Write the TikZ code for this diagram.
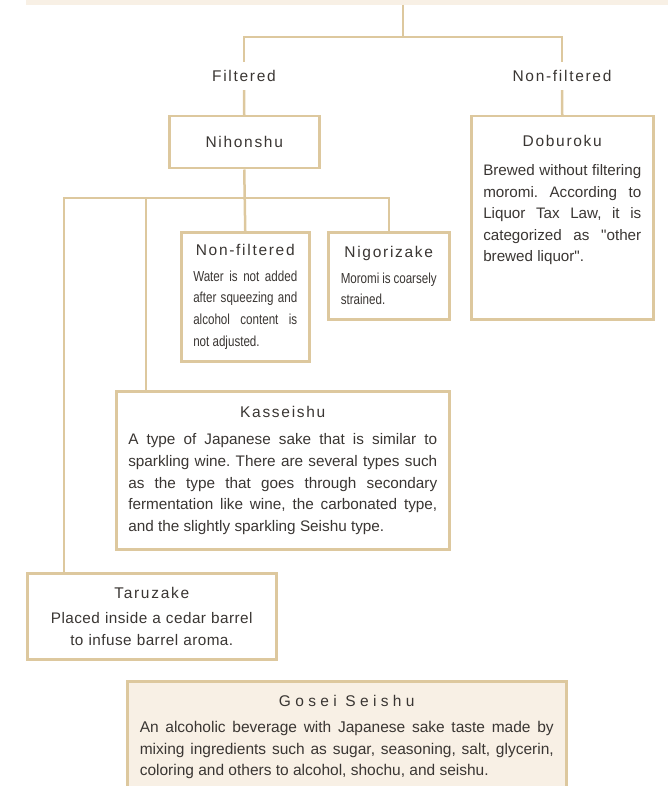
\documentclass[tikz,border=0pt]{standalone}
\usepackage{fontspec}
\setmainfont{Liberation Sans}[Ligatures=TeXOff]
\newfontfamily\headfont[LetterSpace=11]{Liberation Sans}
\newfontfamily\wideheadfont[LetterSpace=28]{Liberation Sans}
\newfontfamily\narrowfont[FakeStretch=0.8,Ligatures=TeXOff]{Liberation Sans}
\definecolor{sakeline}{HTML}{DDC89E}
\definecolor{sakefill}{HTML}{F8F0E5}
\definecolor{sakeink}{HTML}{3A3633}
\hyphenpenalty=10000
\frenchspacing

\begin{document}
\begin{tikzpicture}[x=1pt,y=-1pt,
	conn/.style={draw=sakeline,line width=2.5pt},
	lbl/.style={text=sakeink,font=\headfont\fontsize{15.5}{18}\selectfont,minimum height=28,inner sep=0pt},
	box/.style={draw=sakeline,line width=2.5pt,fill=white,anchor=north west,inner sep=0pt,
		text=sakeink,align=justify,font=\frenchspacing\fontsize{15.3}{21.7}\selectfont}]

	\useasboundingbox (0,0) rectangle (668,786);

	\fill[sakefill] (26,0) rectangle (668,5);
	\coordinate (src) at (403,5);

	\node[lbl] (filt) at (244,76) {Filtered};
	\node[lbl] (unfilt) at (562,76) {Non-filtered};

	\node[box,minimum width=150,minimum height=52] (nihon) at (168,115)
		{\headfont\fontsize{15.5}{18}\selectfont Nihonshu};

	\node[box,minimum width=182,minimum height=203,text width=158] (dobu) at (470,115)
		{{\centering\headfont\fontsize{15.5}{18}\selectfont Doburoku\par}\vspace{8pt}
		\fontsize{15.2}{21.5}\selectfont
		Brewed without filtering\linebreak moromi. According to\linebreak Liquor Tax Law, it is\linebreak
		categorized as "other\linebreak brewed liquor".\par\vspace*{36pt}};

	\node[box,minimum width=128,minimum height=129,text width=104] (nonf) at (180,231)
		{{\centering\headfont\fontsize{15.5}{18}\selectfont Non-filtered\par}\vspace{4pt}
		\narrowfont\fontsize{14.5}{21}\selectfont
		Water is not added\linebreak after squeezing and\linebreak alcohol content is\linebreak not adjusted.};

	\node[box,minimum width=121,minimum height=87,text width=96] (nigo) at (327,231)
		{{\centering\headfont\fontsize{15.5}{18}\selectfont Nigorizake\par}\vspace{4pt}
		\narrowfont\fontsize{14.5}{21}\selectfont
		Moromi is coarsely\linebreak strained.};

	\node[box,minimum width=333,minimum height=158,text width=309] (kass) at (115,390)
		{{\centering\headfont\fontsize{15.5}{18}\selectfont Kasseishu\par}\vspace{6pt}
		A type of Japanese sake that is similar to\linebreak sparkling wine. There are several types such\linebreak
		as the type that goes through secondary\linebreak fermentation like wine, the carbonated type,\linebreak
		and the slightly sparkling Seishu type.};

	\node[box,minimum width=249,minimum height=86,text width=234,align=center] (taru) at (26,572)
		{{\headfont\fontsize{15.5}{18}\selectfont Taruzake\par}\vspace{4pt}
		\addfontfeature{LetterSpace=3}
		Placed inside a cedar barrel\\ to infuse barrel aroma.};

	\node[box,fill=sakefill,minimum width=439,text width=414,inner ysep=14pt] (gosei) at (126,680)
		{{\centering\wideheadfont\fontsize{15.5}{18}\selectfont Gosei Seishu\par}\vspace{5pt}
		\fontsize{15.5}{21.5}\selectfont
		An alcoholic beverage with Japanese sake taste made by\linebreak mixing ingredients such as sugar, seasoning, salt, glycerin,\linebreak
		coloring and others to alcohol, shochu, and seishu.\par\vspace*{30pt}};

	\coordinate (split) at (403,37);
	\coordinate (bus) at (244,198);
	\coordinate (taruin) at ([xshift=38pt]taru.north west);
	\coordinate (kassin) at ([xshift=31pt]kass.north west);

	\draw[conn] (src) -- (split);
	\draw[conn] (filt.north) |- (split) -| (unfilt.north);
	\draw[conn] (filt.south) -- (nihon.north);
	\draw[conn] (unfilt.south) -- (dobu.north);
	\draw[conn] (nihon.south) -- (nonf.north);
	\draw[conn] (taruin) |- (bus -| nigo.north) -- (nigo.north);
	\draw[conn] (kassin) -- (kassin |- bus);

\end{tikzpicture}
\end{document}
